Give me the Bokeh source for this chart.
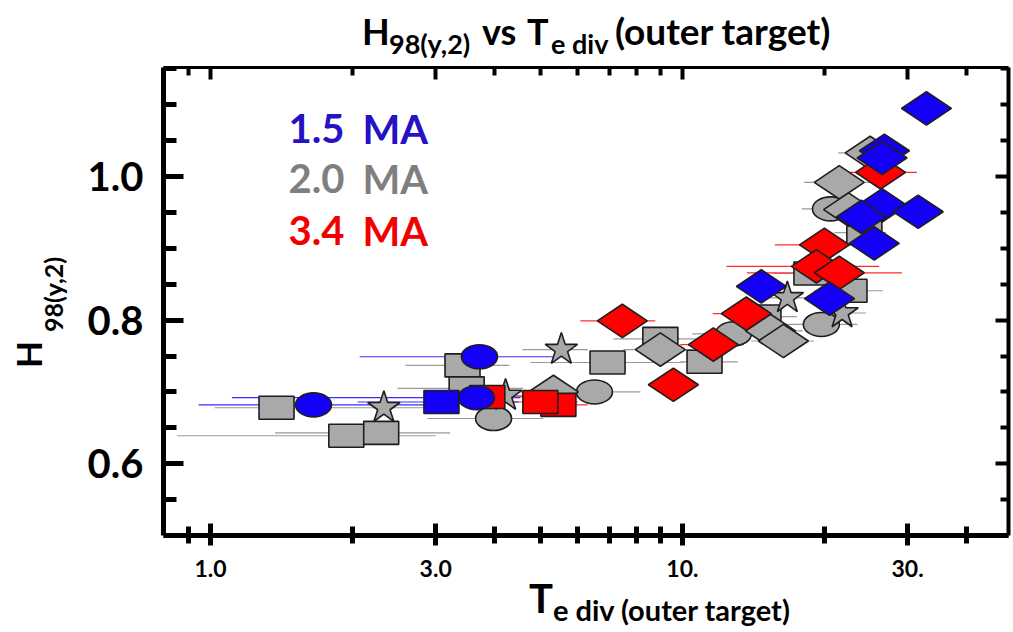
import numpy as np
from bokeh.plotting import figure
from bokeh.models import (FixedTicker, LogAxis, LinearAxis, Label, Range1d,
                          CustomJSTickFormatter, Div)
from bokeh.layouts import column, row
from bokeh.embed import file_html
from bokeh.resources import INLINE

# ---------------- data ----------------
# 2.0 MA (grey)
gray_sq_x = [1.38, 1.94, 2.30, 3.42, 3.49, 6.94, 8.98, 11.14, 14.85, 18.77, 22.6, 24.3]
gray_sq_y = [0.678, 0.639, 0.643, 0.737, 0.705, 0.741, 0.774, 0.742, 0.805, 0.865, 0.841, 0.922]
gray_sq_lo = [1.02, 0.85, 1.37, 2.59, 2.49, 4.76, 7.14, 9.9, 12.6, 15.5, 19.0, 21.0]
gray_sq_hi = [1.9, 3.0, 3.22, 4.3, 4.6, 10.05, 11.4, 13.1, 17.5, 22.0, 26.6, 27.0]

gray_ci_x = [3.98, 6.51, 12.83, 19.7, 20.6]
gray_ci_y = [0.663, 0.700, 0.781, 0.794, 0.955]
gray_ci_lo = [2.88, 5.2, 10.5, 16.1, 17.9]
gray_ci_hi = [5.07, 8.15, 15.0, 23.5, 23.5]

gray_di_x = [5.33, 8.98, 15.37, 16.37, 21.5, 22.5, 25.0]
gray_di_y = [0.700, 0.759, 0.785, 0.771, 0.992, 0.954, 1.033]
gray_di_lo = [4.5, 7.5, 13.0, 14.0, 18.1, 19.0, 21.4]
gray_di_hi = [6.2, 10.5, 18.0, 19.0, 25.0, 26.0, 28.0]

gray_st_x = [2.33, 5.54, 4.22, 16.69, 21.8]
gray_st_y = [0.678, 0.759, 0.695, 0.831, 0.810]
gray_st_lo = [1.9, 4.58, 3.5, 14.5, 19.0]
gray_st_hi = [2.9, 6.3, 5.0, 19.0, 24.5]

# 3.4 MA (red)
red_sq_x = [3.86, 5.46, 5.00]
red_sq_y = [0.693, 0.682, 0.686]
red_sq_lo = [3.2, 4.6, 4.2]
red_sq_hi = [4.6, 6.3, 6.0]

red_di_x = [7.46, 9.57, 11.63, 13.66, 20.0, 19.23, 21.5, 26.3]
red_di_y = [0.799, 0.710, 0.766, 0.809, 0.905, 0.875, 0.866, 1.006]
red_di_lo = [6.08, 8.5, 9.9, 11.6, 15.7, 12.4, 13.7, 21.0]
red_di_hi = [8.76, 10.7, 13.5, 16.0, 25.0, 26.1, 29.2, 31.4]

# 1.5 MA (blue)
blue_ci_x = [1.653, 3.715, 3.66]
blue_ci_y = [0.682, 0.749, 0.692]
blue_ci_lo = [0.943, 2.07, 1.11]
blue_ci_hi = [2.9, 5.33, 4.53]

blue_sq_x = [3.086]
blue_sq_y = [0.686]
blue_sq_lo = [2.05]
blue_sq_hi = [4.5]

blue_di_x = [32.9, 26.8, 26.5, 26.5, 23.95, 31.6, 25.5, 20.5, 14.7]
blue_di_y = [1.095, 1.036, 1.026, 0.960, 0.944, 0.951, 0.907, 0.830, 0.847]
blue_di_lo = [30.0, 24.0, 24.0, 24.0, 21.5, 28.5, 23.0, 18.5, 13.0]
blue_di_hi = [35.0, 29.5, 29.5, 29.0, 26.5, 34.5, 28.5, 23.0, 16.5]

x_major = [1, 3, 10, 30]
x_minor = [0.9, 2, 4, 5, 6, 7, 8, 9, 20, 40]
x_labels = {1: "1.0", 3: "3.0", 10: "10.", 30: "30."}
y_major = [0.6, 0.8, 1.0]
y_minor = [0.5, 0.55, 0.65, 0.7, 0.75, 0.85, 0.9, 0.95, 1.05, 1.1, 1.15]

legend_numbers = ["1.5", "2.0", "3.4"]
legend_unit = "MA"

# ---------------- styling ----------------
GRAY = "#a9a9a9"
RED = "#ff0000"
BLUE = "#1400f5"
EDGE = "#1e1e1e"
FONT = "Lato"

# page geometry: title strip 60px, plot row 525px, x-label strip 47px
TOP_H, ROW_H, BOT_H = 60, 525, 47
YLAB_W = 70

p = figure(width=1013 - YLAB_W, height=ROW_H, x_axis_type="log",
           x_range=Range1d(0.795, 49.1), y_range=Range1d(0.5, 1.152),
           output_backend="svg", toolbar_location=None,
           min_border_left=163 - YLAB_W, min_border_right=5,
           min_border_top=67 - TOP_H, min_border_bottom=ROW_H - (535 - TOP_H),
           margin=0)
p.outline_line_color = None
p.xgrid.visible = False
p.ygrid.visible = False
p.background_fill_color = "white"
p.border_fill_color = "white"

xfmt = CustomJSTickFormatter(args=dict(m={str(k): v for k, v in x_labels.items()}),
                             code="const r = Math.round(tick); const v = m[String(r)]; return (Math.abs(tick - r) < 1e-6 && v) ? v : '';")
blank = CustomJSTickFormatter(code="return '';")

# bottom axis
xa = p.xaxis[0]
xa.ticker = FixedTicker(ticks=x_major, minor_ticks=x_minor)
xa.formatter = xfmt
xa.axis_line_width = 5
xa.major_tick_line_width = 5
xa.minor_tick_line_width = 5
xa.major_tick_in = 12
xa.major_tick_out = 10
xa.minor_tick_in = 9
xa.minor_tick_out = 8
xa.major_label_text_font = FONT
xa.major_label_text_font_style = "bold"
xa.major_label_text_font_size = "23px"
xa.major_label_text_color = "black"
xa.major_label_standoff = 14

# left axis
ya = p.yaxis[0]
ya.ticker = FixedTicker(ticks=y_major, minor_ticks=y_minor)
ya.formatter = CustomJSTickFormatter(code="return tick.toFixed(1);")
ya.axis_line_width = 5
ya.major_tick_line_width = 5
ya.minor_tick_line_width = 5
ya.major_tick_in = 20
ya.major_tick_out = 0
ya.minor_tick_in = 13
ya.minor_tick_out = 0
ya.major_label_text_font = FONT
ya.major_label_text_font_style = "bold"
ya.major_label_text_font_size = "40px"
ya.major_label_text_color = "black"
ya.major_label_standoff = 20

# top axis (ticks only)
ta = LogAxis(ticker=FixedTicker(ticks=x_major, minor_ticks=x_minor), formatter=blank,
             axis_line_width=3, major_tick_line_width=4, minor_tick_line_width=4,
             major_tick_in=12, major_tick_out=0, minor_tick_in=8, minor_tick_out=0,
             major_label_text_font_size="0px", major_label_standoff=0)
p.add_layout(ta, "above")

# right axis (ticks only)
ra = LinearAxis(ticker=FixedTicker(ticks=y_major, minor_ticks=y_minor), formatter=blank,
                axis_line_width=4, major_tick_line_width=4, minor_tick_line_width=4,
                major_tick_in=13, major_tick_out=0, minor_tick_in=8, minor_tick_out=0,
                major_label_text_font_size="0px", major_label_standoff=0)
p.add_layout(ra, "right")

# ---------------- error bars ----------------
def errbars(xs, ys, lo, hi, color):
    p.segment(x0=lo, y0=ys, x1=hi, y1=ys, line_color=color, line_width=1.2)

errbars(gray_sq_x, gray_sq_y, gray_sq_lo, gray_sq_hi, "#9a9a9a")
errbars(gray_ci_x, gray_ci_y, gray_ci_lo, gray_ci_hi, "#9a9a9a")
errbars(gray_di_x, gray_di_y, gray_di_lo, gray_di_hi, "#9a9a9a")
errbars(gray_st_x, gray_st_y, gray_st_lo, gray_st_hi, "#9a9a9a")
errbars(red_sq_x, red_sq_y, red_sq_lo, red_sq_hi, "#ff2a2a")
errbars(red_di_x, red_di_y, red_di_lo, red_di_hi, "#ff2a2a")
errbars(blue_ci_x, blue_ci_y, blue_ci_lo, blue_ci_hi, "#3b2bff")
errbars(blue_sq_x, blue_sq_y, blue_sq_lo, blue_sq_hi, "#3b2bff")
errbars(blue_di_x, blue_di_y, blue_di_lo, blue_di_hi, "#3b2bff")

# ---------------- markers ----------------
def squares(xs, ys, color):
    p.rect(x=xs, y=ys, width=35, height=23, width_units="screen", height_units="screen",
           fill_color=color, line_color=EDGE, line_width=1.6)

def circles(xs, ys, color):
    p.ellipse(x=xs, y=ys, width=36, height=24, width_units="screen", height_units="screen",
              fill_color=color, line_color=EDGE, line_width=1.6)

def diamonds(xs, ys, color):
    p.scatter(x=xs, y=ys, marker="diamond", size=50, angle=np.pi / 2,
              fill_color=color, line_color=EDGE, line_width=1.6)

def stars(xs, ys, color):
    p.scatter(x=xs, y=ys, marker="star", size=34,
              fill_color=color, line_color=EDGE, line_width=1.6)

squares(gray_sq_x, gray_sq_y, GRAY)
circles(gray_ci_x, gray_ci_y, GRAY)
diamonds(gray_di_x, gray_di_y, GRAY)
stars(gray_st_x, gray_st_y, GRAY)
squares(red_sq_x, red_sq_y, RED)
diamonds(red_di_x, red_di_y, RED)
circles(blue_ci_x, blue_ci_y, BLUE)
squares(blue_sq_x, blue_sq_y, BLUE)
diamonds(blue_di_x, blue_di_y, BLUE)

# ---------------- legend texts inside the frame ----------------
FL, FB = 163, 535
legend_colors = ["#2412c4", "#7f7f7f", "#f20000"]
legend_y = [128, 178, 230]
for num, c, yy in zip(legend_numbers, legend_colors, legend_y):
    for txt, cx in ((num, 288), (legend_unit, 362)):
        p.add_layout(Label(x=cx - FL, y=FB - yy, x_units="screen", y_units="screen",
                           text=txt, text_font=FONT, text_font_style="bold",
                           text_font_size="40px", text_color=c,
                           text_align="left", text_baseline="alphabetic"))

# ---------------- title / axis labels as HTML (outside the frame) ----------------
ASC = 0.887  # baseline offset (in em) of Lato with line-height 1

def span(left, baseline, text, size, rotate=False, offset_top=0):
    top = baseline - offset_top - ASC * size
    if rotate:
        # rotated -90deg about its top-left corner: baseline becomes a vertical line at left + ASC*size
        left_px = left - ASC * size
        top_px = baseline - offset_top
        return (f'<span style="position:absolute;left:{left_px:.1f}px;top:{top_px:.1f}px;'
                f'font-size:{size}px;line-height:1;white-space:nowrap;'
                f'transform-origin:0 0;transform:rotate(-90deg);">{text}</span>')
    return (f'<span style="position:absolute;left:{left:.1f}px;top:{top:.1f}px;'
            f'font-size:{size}px;line-height:1;white-space:nowrap;">{text}</span>')

BOX = 'position:relative;margin:0;padding:0;font-family:Lato;font-weight:bold;color:black;'

title_html = (f'<div style="{BOX}width:1013px;height:{TOP_H}px;">'
              + span(362, 45, "H", 36)
              + span(389, 54, "98(y,2)", 27)
              + span(482, 45, "vs", 36)
              + span(527, 45, "T", 36)
              + span(551, 54, "e div", 27)
              + span(615, 45, "(outer target)", 37)
              + '</div>')

ylab_html = (f'<div style="{BOX}width:{YLAB_W}px;height:{ROW_H}px;">'
             + span(42, 368, "H", 35, rotate=True, offset_top=TOP_H)
             + span(63, 332, "98(y,2)", 25, rotate=True, offset_top=TOP_H)
             + '</div>')

xlab_html = (f'<div style="{BOX}width:1013px;height:{BOT_H}px;">'
             + span(529, 613, "T", 40, offset_top=TOP_H + ROW_H)
             + span(553, 621, "e div (outer target)", 29, offset_top=TOP_H + ROW_H)
             + '</div>')

title_div = Div(text=title_html, width=1013, height=TOP_H, margin=0, styles={"overflow": "visible"})
ylab_div = Div(text=ylab_html, width=YLAB_W, height=ROW_H, margin=0, styles={"overflow": "visible"})
xlab_div = Div(text=xlab_html, width=1013, height=BOT_H, margin=0, styles={"overflow": "visible"})

layout = column(title_div, row(ylab_div, p, spacing=0, margin=0), xlab_div, spacing=0, margin=0)

open("out.html", "w").write(file_html(layout, INLINE))
